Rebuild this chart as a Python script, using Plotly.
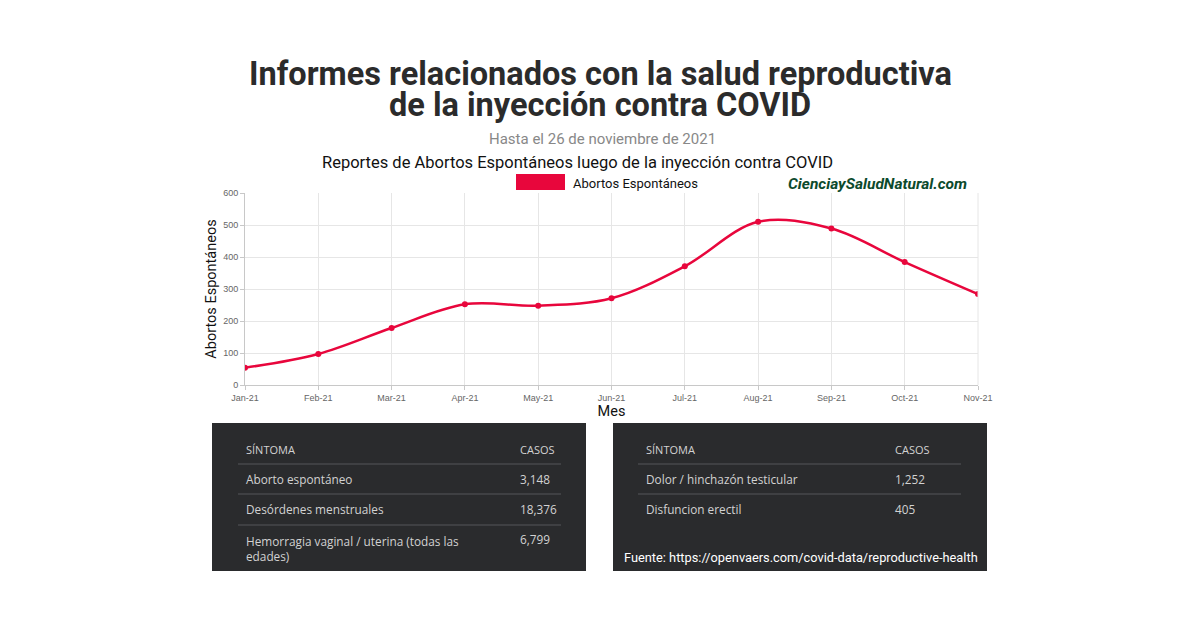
import plotly.graph_objects as go

months = ["Jan-21", "Feb-21", "Mar-21", "Apr-21", "May-21", "Jun-21",
          "Jul-21", "Aug-21", "Sep-21", "Oct-21", "Nov-21"]
abortos = [54, 97, 178, 252, 248, 271, 371, 510, 489, 384, 284]
y_ticks = [0, 100, 200, 300, 400, 500, 600]

table_left_header = ["SÍNTOMA", "CASOS"]
table_left_symptoms = ["Aborto espontáneo", "Desórdenes menstruales",
                       "Hemorragia vaginal / uterina (todas las<br>edades)"]
table_left_cases = ["3,148", "18,376", "6,799"]
table_right_header = ["SÍNTOMA", "CASOS"]
table_right_symptoms = ["Dolor / hinchazón testicular", "Disfuncion erectil"]
table_right_cases = ["1,252", "405"]

NARROW = "Roboto, sans-serif"
TABLE_FONT = "Open Sans, sans-serif"
RED = "#e8063c"

W, H = 1200, 630
L, R, T, B = 245, 978, 193, 385

fig = go.Figure()
fig.add_trace(go.Scatter(
    x=list(range(len(months))), y=abortos, mode="lines+markers",
    line=dict(color=RED, width=2.5, shape="spline", smoothing=1.0),
    marker=dict(color=RED, size=6),
    name="Abortos Espontáneos", showlegend=False, hoverinfo="skip"))

fig.update_layout(
    width=W, height=H, paper_bgcolor="white", plot_bgcolor="white",
    margin=dict(l=L, r=W - R, t=T, b=H - B, autoexpand=False),
    showlegend=False,
    xaxis=dict(range=[0, len(months) - 1], tickmode="array",
               tickvals=list(range(len(months))), ticktext=months,
               showgrid=True, gridcolor="#e6e6e6", gridwidth=1,
               zeroline=False, showline=True, linecolor="#c8c8c8",
               ticks="outside", ticklen=4, tickcolor="#c8c8c8",
               tickfont=dict(family="Liberation Sans, Arial", size=9, color="#666666"),
               title=dict(text="Mes", font=dict(family=NARROW, size=14.5, color="#111111"),
                          standoff=2)),
    yaxis=dict(range=[0, 600], tickmode="array", tickvals=y_ticks,
               showgrid=True, gridcolor="#e6e6e6", gridwidth=1,
               zeroline=False, showline=True, linecolor="#c8c8c8",
               ticks="outside", ticklen=4, tickcolor="#c8c8c8",
               tickfont=dict(family="Liberation Sans, Arial", size=9, color="#666666"),
               title=dict(text="Abortos Espontáneos",
                          font=dict(family=NARROW, size=14.5, color="#111111"),
                          standoff=3)),
)

shapes = []
ann = []

# right border of plot grid
shapes.append(dict(type="line", xref="paper", yref="paper", x0=1, x1=1, y0=0, y1=1,
                   line=dict(color="#e6e6e6", width=1)))


def px(x):
    return (x - L) / (R - L)


def py(y):
    return (B - y) / (B - T)


def text(x, y, s, size, color, family, xanchor="center", bold=False, italic=False):
    if bold:
        s = "<b>" + s + "</b>"
    if italic:
        s = "<i>" + s + "</i>"
    ann.append(dict(x=px(x), y=py(y), xref="paper", yref="paper", text=s,
                    showarrow=False, xanchor=xanchor, yanchor="middle", align="left",
                    borderpad=0, font=dict(size=size, color=color, family=family)))


# Titles
text(600, 74, "Informes relacionados con la salud reproductiva", 32.5, "#2b2b2b", NARROW, bold=True)
text(600, 105, "de la inyección contra COVID", 32.5, "#2b2b2b", NARROW, bold=True)
text(602, 139, "Hasta el 26 de noviembre de 2021", 15, "#888888", NARROW)
text(577, 162, "Reportes de Abortos Espontáneos luego de la inyección contra COVID", 16.5, "#111111", NARROW)

# legend
shapes.append(dict(type="rect", xref="paper", yref="paper",
                   x0=px(516), x1=px(565), y0=py(190), y1=py(174),
                   fillcolor=RED, line=dict(width=0)))
text(572, 183, "Abortos Espontáneos", 13, "#111111", NARROW, xanchor="left")

# watermark
text(877, 184, "CienciaySaludNatural.com", 15.5, "#0c4a2c", NARROW, bold=True, italic=True)

# Tables
BOX = "#2a2b2d"
SEP = "#55575a"
TXT = "#d2d2d2"
for (x0, x1) in [(212, 586), (613, 987)]:
    shapes.append(dict(type="rect", xref="paper", yref="paper",
                       x0=px(x0), x1=px(x1), y0=py(571), y1=py(423),
                       fillcolor=BOX, line=dict(width=0), layer="above"))

# left table
text(245, 449, table_left_header[0], 11, TXT, TABLE_FONT, xanchor="left")
text(519, 449, table_left_header[1], 11, TXT, TABLE_FONT, xanchor="left")
for yy in [464, 494, 525]:
    shapes.append(dict(type="line", xref="paper", yref="paper",
                       x0=px(238), x1=px(561), y0=py(yy), y1=py(yy),
                       line=dict(color=SEP, width=1), layer="above"))
row_y = [479, 509, 548]
for i, (s, c) in enumerate(zip(table_left_symptoms, table_left_cases)):
    text(245, row_y[i], s, 11.8, TXT, TABLE_FONT, xanchor="left")
    text(519, 479 + 30 * i, c, 11.8, TXT, TABLE_FONT, xanchor="left")

# right table
text(645, 449, table_right_header[0], 11, TXT, TABLE_FONT, xanchor="left")
text(894, 449, table_right_header[1], 11, TXT, TABLE_FONT, xanchor="left")
for yy in [464, 494]:
    shapes.append(dict(type="line", xref="paper", yref="paper",
                       x0=px(638), x1=px(961), y0=py(yy), y1=py(yy),
                       line=dict(color=SEP, width=1), layer="above"))
for i, (s, c) in enumerate(zip(table_right_symptoms, table_right_cases)):
    text(645, 479 + 30 * i, s, 11.8, TXT, TABLE_FONT, xanchor="left")
    text(894, 479 + 30 * i, c, 11.8, TXT, TABLE_FONT, xanchor="left")

text(801, 557, "Fuente: https://openvaers.com/covid-data/reproductive-health", 12.8, "#ffffff", NARROW)

fig.update_layout(shapes=shapes, annotations=ann)
fig.write_html("out.html")
